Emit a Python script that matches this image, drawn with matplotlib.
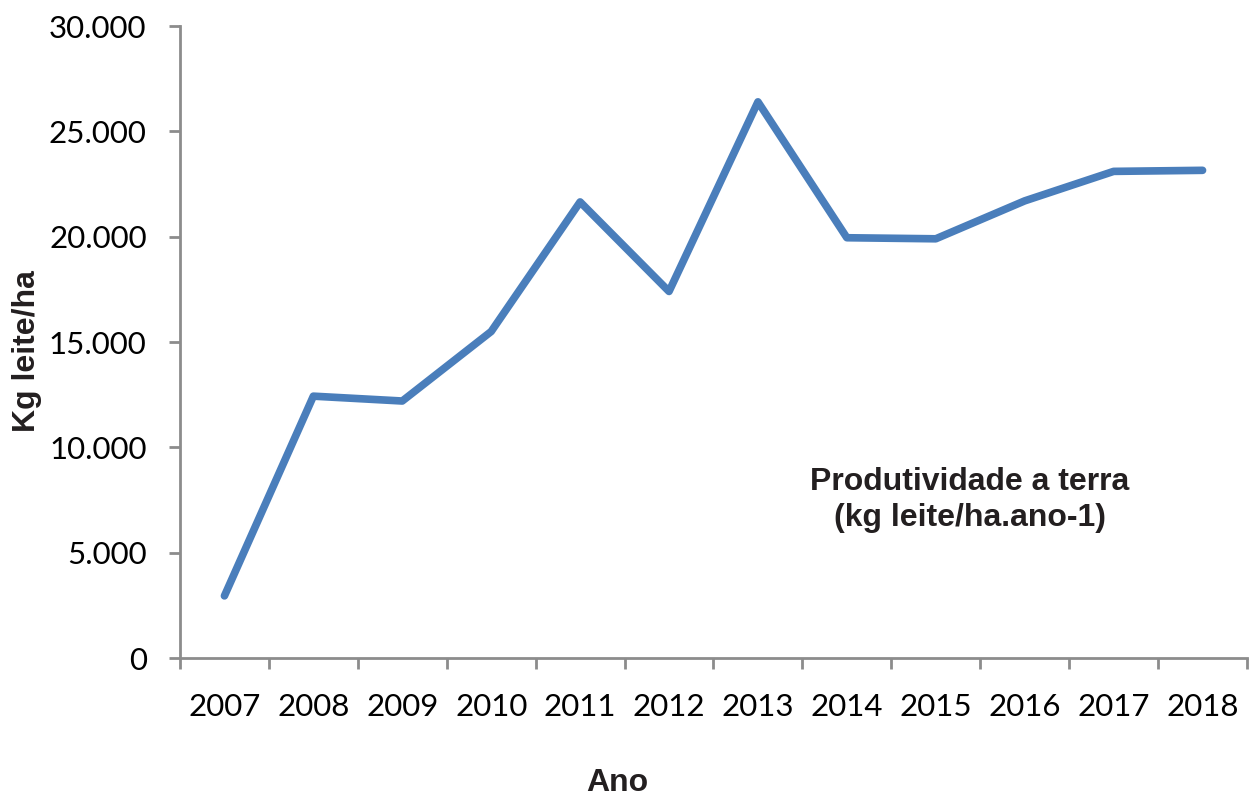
import matplotlib.pyplot as plt
from matplotlib.ticker import FuncFormatter

anos = ['2007', '2008', '2009', '2010', '2011', '2012',
        '2013', '2014', '2015', '2016', '2017', '2018']
produtividade = [2950, 12430, 12200, 15500, 21650, 17400,
                 26400, 19950, 19900, 21700, 23100, 23150]

tick_font = ['Lato', 'DejaVu Sans']
bold_font = ['Liberation Sans', 'DejaVu Sans']
gray = '#8c8c8c'

fig = plt.figure(figsize=(12.49, 7.98), dpi=100)
ax = fig.add_axes([0.1441, 0.1754, 0.8543, 0.7920])

x = list(range(len(anos)))
ax.plot(x, produtividade, color='#4a7ebb', linewidth=5.5,
        solid_capstyle='round', solid_joinstyle='round')

ax.set_xlim(-0.5, len(anos) - 0.5)
ax.set_ylim(0, 30000)
ax.set_yticks(range(0, 30001, 5000))
ax.yaxis.set_major_formatter(FuncFormatter(lambda v, p: f'{int(v):,}'.replace(',', '.')))

# categories between tick marks
ax.set_xticks(x)
ax.set_xticklabels(anos)
ax.set_xticks([i - 0.5 for i in range(len(anos) + 1)], minor=True)
ax.tick_params(axis='x', which='major', length=0, pad=25)
ax.tick_params(axis='x', which='minor', length=8, width=2, color=gray)
ax.tick_params(axis='y', length=8, width=2, color=gray, pad=16)

for lab in ax.get_xticklabels() + ax.get_yticklabels():
    lab.set_family(tick_font)
    lab.set_fontsize(22.5)

for s in ['top', 'right']:
    ax.spines[s].set_visible(False)
for s in ['left', 'bottom']:
    ax.spines[s].set_color(gray)
    ax.spines[s].set_linewidth(2)

fig.text(0.0216, 0.56, 'Kg leite/ha', rotation=90, ha='center', va='center',
         fontsize=23, fontweight='bold', family=bold_font, color='#231f20')
fig.text(0.494, 0.019, 'Ano', ha='center', va='center',
         fontsize=23, fontweight='bold', family=bold_font, color='#231f20')
ax.text(0.740, 0.25, 'Produtividade a terra\n(kg leite/ha.ano-1)',
        transform=ax.transAxes, ha='center', va='center', linespacing=1.25,
        fontsize=23, fontweight='bold', family=bold_font, color='#231f20')

fig.savefig('out.png', dpi=100)
